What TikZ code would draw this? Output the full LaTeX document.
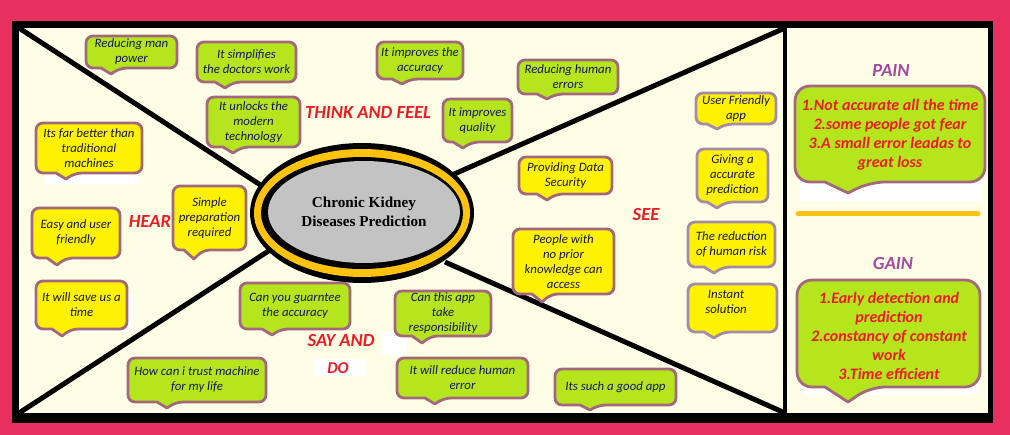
\documentclass[tikz,border=0pt]{standalone}
\usepackage{fontspec}
\usetikzlibrary{shapes.geometric}
\newfontfamily\carl{Carlito}
\newfontfamily\tms{Liberation Serif}
\definecolor{pinkbg}{HTML}{E8305E}
\definecolor{cream}{HTML}{FEFEE6}
\definecolor{gr}{HTML}{B5E61D}
\definecolor{ye}{HTML}{FFF200}
\definecolor{bord}{HTML}{A3687B}
\definecolor{bordB}{HTML}{A68BA6}
\definecolor{navy}{HTML}{16165E}
\definecolor{lred}{HTML}{ED1C24}
\definecolor{purp}{HTML}{A349A4}
\definecolor{ring}{HTML}{FFC20E}
\definecolor{grayfill}{HTML}{C3C3C3}
\newcommand\tL{10}
\newcommand\tR{9}
\newcommand\rc{7pt}
\newcommand\bub[9]{%
  \draw[bubst,fill=#1] (#6-\tL,#5) [rounded corners=\rc] -- (#2,#5) -- (#2,#3) -- (#4,#3) -- (#4,#5) -- (#6+\tR,#5) [sharp corners] -- (#6,#7) -- cycle;
  \node[txt] (#8) at ({(#2+#4)/2},{(#3+#5)/2}) {#9};}
\begin{document}
\begin{tikzpicture}[x=1pt,y=-1pt,
  bubst/.style={draw=bord,line width=2.8pt,line join=round},
  txt/.style={font=\carl\itshape\fontsize{12.8}{15}\selectfont,text=navy,align=center,inner sep=0pt},
  lab/.style={font=\carl\bfseries\itshape\fontsize{18.5}{20}\selectfont,text=lred,inner sep=0pt},
  pg/.style={font=\carl\bfseries\itshape\fontsize{18.5}{20}\selectfont,text=purp,inner sep=0pt},
  bigtxt/.style={font=\carl\bfseries\itshape\fontsize{16}{19}\selectfont,text=lred,align=center,inner sep=0pt},
  diag/.style={line width=5pt,black}]
\useasboundingbox (0,0) rectangle (1010,435);
\fill[pinkbg] (0,0) rectangle (1010,435);
\fill[black] (12,21) rectangle (993,423);
\fill[cream] (19,28) rectangle (988,413);
% corners and divider
\coordinate (tl) at (19,28);
\coordinate (bl) at (19,413);
\coordinate (tr) at (785,28);
\coordinate (br) at (785,413);
\coordinate (e1) at (262,186);
\coordinate (e2) at (452,175);
\coordinate (e3) at (270,250);
\coordinate (e4) at (445,262);
\draw[line width=4.5pt] (tr) -- (br);
\draw[diag] (tl) -- (e1);
\draw[diag] (tr) -- (e2);
\draw[diag] (bl) -- (e3);
\draw[diag] (br) -- (e4);
% central ellipse
\fill[black] (362,213) ellipse [x radius=112pt,y radius=70pt];
\fill[ring] (362,213) ellipse [x radius=108pt,y radius=64pt];
\fill[black] (362,213) ellipse [x radius=101pt,y radius=56pt];
\node[ellipse,fill=grayfill,minimum width=192pt,minimum height=102pt,inner sep=0pt,
  font=\tms\bfseries\fontsize{15.2}{19}\selectfont,align=center] (ckd) at (364,212) {Chronic Kidney\\Diseases Prediction};
% white patches
\fill[white] (45,165) rectangle (139,184);
\fill[white] (32,294) rectangle (133,332);
\fill[white] (381,332) rectangle (407,355);
\fill[white] (314,359) rectangle (365,376);
\fill[white] (800,165) rectangle (981,201);
\fill[white] (802,370) rectangle (977,395);
% think and feel
\bub{gr}{86}{36}{177}{68}{111}{74}{b1}{Reducing man\\power}
\bub{gr}{197}{42}{296}{82}{225}{88}{b2}{It simplifies\\the doctors work}
\bub{gr}{207}{97}{300}{147}{233}{153}{b3}{It unlocks the\\modern\\technology}
\bub{gr}{377}{42}{463}{79}{402}{84}{b14}{It improves the\\accuracy}
\bub{gr}{518}{60}{618}{94}{547}{99}{b15}{Reducing human\\errors}
\bub{gr}{443}{99}{512}{142}{463}{148}{b16}{It improves\\quality}
% hear
\bub{ye}{36}{123}{142}{173}{66}{179}{b4}{Its far better than\\traditional\\machines}
\bub{ye}{173}{186}{246}{250}{194}{259}{b5}{Simple\\preparation\\required}
\bub{ye}{32}{208}{120}{258}{57}{265}{b6}{Easy and user\\friendly}
\bub{ye}{36}{281}{127}{329}{62}{336}{b7}{It will save us a\\time}
% say and do
\bub{gr}{240}{283}{350}{329}{272}{335}{b8}{Can you guarntee\\the accuracy}
\bub{gr}{128}{358}{266}{402}{167}{408}{b9}{How can i trust machine\\for my life}
\bub{gr}{395}{291}{491}{336}{422}{343}{b10}{Can this app\\take\\responsibility}
\bub{gr}{397}{358}{528}{398}{435}{404}{b11}{It will reduce human\\error}
\bub{gr}{555}{369}{676}{405}{590}{410}{b12}{Its such a good app}
% see
\bub{ye}{513}{229}{614}{294}{542}{302}{b13}{People with\\no prior\\knowledge can\\access}
\bub{ye}{519}{157}{612}{194}{547}{200}{b17}{Providing Data\\Security}
\bub{ye,draw=bordB}{696}{93}{776}{124}{717}{129}{b18}{User Friendly\\app}
\bub{ye,draw=bordB}{697}{149}{768}{202}{717}{208}{b19}{Giving a\\accurate\\prediction}
\bub{ye,draw=bordB}{688}{222}{775}{267}{714}{273}{b20}{The reduction\\of human risk}
\draw[bubst,draw=bordB,fill=ye] (704,332) [rounded corners=7pt] -- (688,332) -- (688,284) -- (777,284) -- (777,332) -- (723,332) [sharp corners] -- (714,338) -- cycle;
\node[txt] (b21) at (726,302) {Instant\\solution};
% section labels
\node[lab] (think) at (368,113) {THINK AND FEEL};
\node[lab] (hear) at (150,222) {HEAR};
\node[lab] (see) at (646,215) {SEE};
\node[lab] (say) at (341,341) {SAY AND};
\node[lab,font=\carl\bfseries\itshape\fontsize{16.5}{18}\selectfont] (do) at (338,368) {DO};
% pain and gain
\node[pg] (pain) at (891,71) {PAIN};
\node[pg] (gain) at (893,263) {GAIN};
\draw[ring,line width=5pt,line cap=round] (798,214) -- (978,214);
\draw[bubst,fill=gr] (848-23,182) [rounded corners=15pt] -- (795,182) -- (795,86) -- (985,86) -- (985,182) -- (848+22,182) [sharp corners] -- (848,193) -- cycle;
\node[bigtxt] (paintxt) at (890,134.5) {1.Not accurate all the time\\2.some people got fear\\3.A small error leadas to\\great loss};
\draw[bubst,fill=gr] (848-23,387) [rounded corners=15pt] -- (797,387) -- (797,280) -- (980,280) -- (980,387) -- (848+22,387) [sharp corners] -- (848,402) -- cycle;
\node[bigtxt] (gaintxt) at (889,336) {1.Early detection and\\prediction\\2.constancy of constant\\work\\3.Time efficient};
\end{tikzpicture}
\end{document}
